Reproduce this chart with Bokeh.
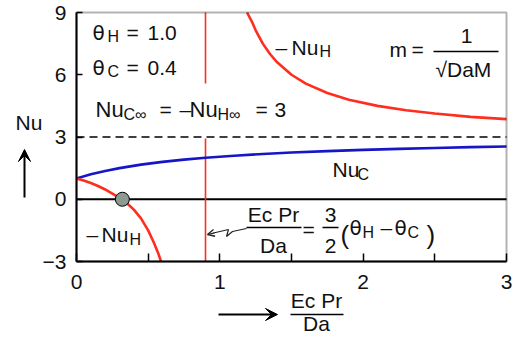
from bokeh.plotting import figure
from bokeh.models import Range1d, FixedTicker, Label, Arrow, VeeHead, OpenHead, BoxAnnotation
from bokeh.embed import file_html
from bokeh.resources import INLINE

# ---- data ----
x_nuc = [0, 0.1, 0.2, 0.3, 0.45, 0.6, 0.75, 0.9, 1.1, 1.3, 1.5, 1.75, 2.0, 2.25, 2.5, 2.75, 3.0]
nu_c = [1.0, 1.2, 1.36, 1.5, 1.67, 1.8, 1.91, 2.0, 2.1, 2.18, 2.25, 2.32, 2.38, 2.43, 2.47, 2.51, 2.54]

x_nuh_left = [0, 0.05, 0.1, 0.15, 0.2, 0.25, 0.3, 0.35, 0.4, 0.45, 0.5, 0.54, 0.57, 0.59]
neg_nuh_left = [1.0, 0.9, 0.78, 0.64, 0.47, 0.27, 0.07, -0.18, -0.5, -0.92, -1.5, -2.1, -2.6, -3.0]

x_nuh_right = [1.19, 1.225, 1.25, 1.3, 1.35, 1.4, 1.5, 1.6, 1.75, 1.9, 2.1, 2.3, 2.5, 2.75, 3.0]
neg_nuh_right = [9.0, 8.54, 8.14, 7.5, 7.0, 6.6, 6.0, 5.57, 5.12, 4.8, 4.5, 4.29, 4.13, 3.97, 3.86]

asym_x = [0.9, 0.9]
asym_y0 = [9.0, 2.93]
asym_y1 = [5.58, -3.0]

nu_inf = 3
zero_x = [0.32]
zero_y = [0.0]

x_ticks = [0, 1, 2, 3]
x_minor = [0.5, 1.5, 2.5]
y_ticks = [-3, 0, 3, 6, 9]

RED = "#ff2d1e"
BLUE = "#1616c8"
FONT = "Liberation Sans"
GREEK = "DejaVu Sans"
INK = "#111111"

W, H = 516, 336
# plot box position inside the picture (px)
FL, FR, FT, FB = 76, 506, 12, 261
X0, X1 = x_ticks[0], x_ticks[-1]
Y0, Y1 = y_ticks[0], y_ticks[-1]
LABEL_DY = -8  # compensation for how labels sit on their anchor


def dx(px):
    return X0 + (px - FL) / (FR - FL) * (X1 - X0)


def dy(py):
    return Y1 - (py - FT) / (FB - FT) * (Y1 - Y0)


p = figure(width=W, height=H, output_backend="svg", toolbar_location=None,
           x_range=Range1d(dx(0), dx(W)), y_range=Range1d(dy(H), dy(0)))
p.min_border = 0
p.min_border_left = 0
p.min_border_right = 0
p.min_border_top = 0
p.min_border_bottom = 0
p.grid.visible = False
p.outline_line_color = None
p.background_fill_color = "white"
p.border_fill_color = "white"

p.xaxis.ticker = FixedTicker(ticks=x_ticks, minor_ticks=x_minor)
p.yaxis.ticker = FixedTicker(ticks=y_ticks, minor_ticks=[])
p.xaxis.fixed_location = Y0
p.yaxis.fixed_location = X0
p.xaxis.bounds = (X0, X1)
p.yaxis.bounds = (Y0, Y1)
for ax in (p.xaxis, p.yaxis):
    ax.axis_line_color = "black"
    ax.axis_line_width = 2
    ax.major_tick_out = 0
    ax.minor_tick_out = 0
    ax.major_tick_line_color = "black"
    ax.minor_tick_line_color = "black"
    ax.major_tick_line_width = 1.5
    ax.minor_tick_line_width = 1.5
    ax.major_label_text_font = FONT
    ax.major_label_text_font_size = "21px"
    ax.major_label_text_color = INK
p.xaxis.major_tick_in = 8
p.xaxis.minor_tick_in = 8
p.yaxis.major_tick_in = 6
p.xaxis.major_label_standoff = 13
p.yaxis.major_label_standoff = 10

# plot box border
p.add_layout(BoxAnnotation(left=X0, right=X1, bottom=Y0, top=Y1, fill_alpha=0,
                           line_color="black", line_width=2))

# reference lines
p.segment(x0=[X0], y0=[nu_inf], x1=[X1], y1=[nu_inf], line_color="black",
          line_width=1.5, line_dash="8 5")
p.segment(x0=[X0], y0=[0], x1=[X1], y1=[0], line_color="black", line_width=2)

# curves
p.segment(x0=asym_x, y0=asym_y0, x1=asym_x, y1=asym_y1, line_color=RED, line_width=1.6)
p.line(x_nuc, nu_c, line_color=BLUE, line_width=2.6)
p.line(x_nuh_left, neg_nuh_left, line_color=RED, line_width=2.6)
p.line(x_nuh_right, neg_nuh_right, line_color=RED, line_width=2.6)
p.scatter(zero_x, zero_y, size=14, fill_color="#8c9a92", line_color="black", line_width=1)


def lab(text, px, py, size=21, align="left", font=FONT):
    p.add_layout(Label(x=dx(px), y=dy(py + LABEL_DY), text=text, text_font=font,
                       text_font_size=f"{size}px", text_color=INK,
                       text_align=align, text_baseline="alphabetic"))


def bar(px0, px1, py, width=1.3):
    p.add_layout(Arrow(x_start=dx(px0), y_start=dy(py), x_end=dx(px1), y_end=dy(py),
                       end=None, line_color="black", line_width=width))


SUB = 16
# theta_H = 1.0
lab("θ", 92, 40, 20, font=GREEK); lab("H", 107, 44, SUB); lab("=", 126, 40); lab("1.0", 147, 40)
# theta_C = 0.4
lab("θ", 92, 75, 20, font=GREEK); lab("C", 107, 79, SUB); lab("=", 126, 75); lab("0.4", 147, 75)
# Nu_C∞ = -Nu_H∞ = 3
lab("Nu", 95, 117, 22); lab("C∞", 123, 122, SUB); lab("=", 159, 117)
lab("–", 179, 117); lab("Nu", 189, 117, 22); lab("H∞", 217, 122, SUB)
lab("=", 255, 117); lab("3", 274, 117)
# -Nu_H top right
lab("–", 275, 55); lab("Nu", 291, 55); lab("H", 319, 59, SUB)
# m = 1/sqrt(DaM)
lab("m", 389, 57); lab("=", 411, 57); lab("1", 466, 43, align="center")
bar(433, 498, 51)
lab("√DaM", 435, 77)
# Nu_C middle
lab("Nu", 332, 177); lab("C", 357, 182, SUB)
# -Nu_H bottom left
lab("–", 86, 242); lab("Nu", 101, 242); lab("H", 129, 247, SUB)
# EcPr/Da = 3/2 (theta_H - theta_C)
lab("Ec Pr", 273, 222, align="center"); bar(246, 301, 227); lab("Da", 273, 253, align="center")
lab("=", 302, 237)
lab("3", 330, 222, align="center"); bar(322, 338, 227); lab("2", 330, 253, align="center")
lab("(", 340, 242, 26)
lab("θ", 349, 235, 20, font=GREEK); lab("H", 362, 240, SUB)
lab("–", 380, 235)
lab("θ", 394, 235, 20, font=GREEK); lab("C", 407, 240, SUB)
lab(")", 426, 242, 26)
# zigzag pointer to the asymptote
zz_px = [246, 232, 226, 228, 213]
zz_py = [228, 231, 236, 229, 232.5]
p.line([dx(v) for v in zz_px], [dy(v) for v in zz_py], line_color="#222222", line_width=1.2)
p.add_layout(Arrow(x_start=dx(214), y_start=dy(232.3), x_end=dx(207), y_end=dy(234),
                   end=OpenHead(size=7, line_color="#222222", line_width=1.3),
                   line_color="#222222", line_width=1.2))

# axis titles
lab("Nu", 15, 130)
p.add_layout(Arrow(x_start=dx(24), y_start=dy(197), x_end=dx(24), y_end=dy(149),
                   end=VeeHead(size=12, fill_color="black", line_color="black"),
                   line_color="black", line_width=2))
p.add_layout(Arrow(x_start=dx(218), y_start=dy(314), x_end=dx(277), y_end=dy(314),
                   end=VeeHead(size=12, fill_color="black", line_color="black"),
                   line_color="black", line_width=2))
lab("Ec Pr", 316, 308, align="center"); bar(290, 343, 314); lab("Da", 316, 331, align="center")

open("out.html", "w").write(file_html(p, INLINE))
